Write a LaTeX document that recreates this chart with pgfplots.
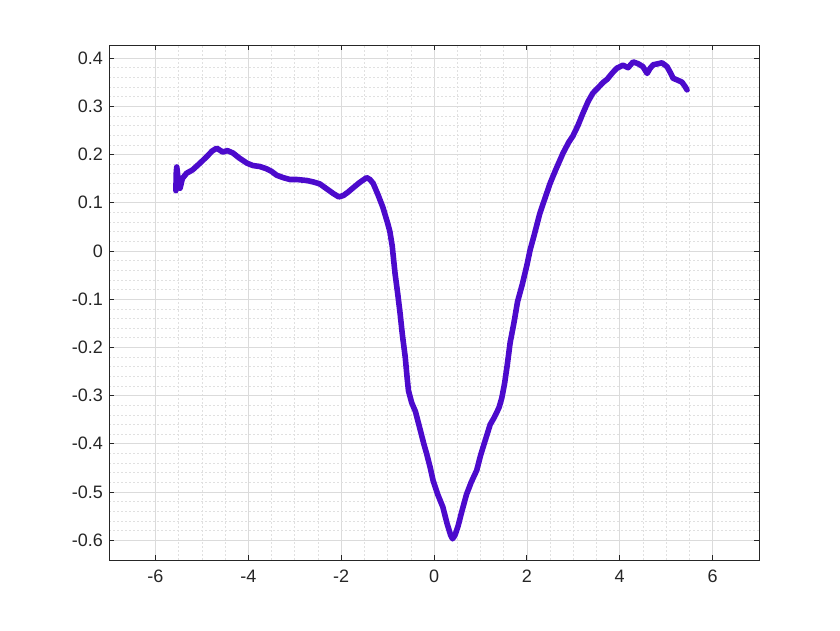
\documentclass[border=0pt]{standalone}
\usepackage{fontspec}
\setmainfont{Liberation Sans}
\usepackage{pgfplots}
\pgfplotsset{compat=1.18}
\definecolor{axgray}{gray}{0.15}
\definecolor{majgrid}{gray}{0.86}
\definecolor{mingrid}{gray}{0.88}
\definecolor{dots}{rgb}{0.30,0.04,0.80}

\pgfplotstableread{
x y
-5.56 0.125
-5.55 0.165
-5.54 0.174
-5.50 0.140
-5.47 0.130
-5.42 0.150
-5.33 0.161
-5.20 0.168
-5.04 0.182
-4.90 0.195
-4.78 0.207
-4.68 0.213
-4.55 0.205
-4.45 0.208
-4.33 0.203
-4.20 0.193
-4.03 0.182
-3.90 0.177
-3.75 0.175
-3.60 0.170
-3.50 0.165
-3.39 0.157
-3.25 0.152
-3.10 0.148
-2.95 0.148
-2.74 0.146
-2.60 0.143
-2.46 0.139
-2.30 0.128
-2.17 0.119
-2.05 0.112
-1.95 0.115
-1.85 0.122
-1.74 0.131
-1.60 0.142
-1.45 0.152
-1.38 0.148
-1.31 0.140
-1.20 0.115
-1.10 0.090
-1.00 0.058
-0.95 0.040
-0.90 0.010
-0.84 -0.046
-0.78 -0.090
-0.73 -0.130
-0.68 -0.175
-0.62 -0.220
-0.58 -0.262
-0.55 -0.290
-0.48 -0.315
-0.40 -0.333
-0.30 -0.370
-0.22 -0.400
-0.16 -0.420
-0.08 -0.450
-0.02 -0.476
0.08 -0.505
0.19 -0.531
0.28 -0.565
0.36 -0.590
0.40 -0.597
0.45 -0.590
0.52 -0.570
0.60 -0.540
0.70 -0.505
0.80 -0.480
0.92 -0.455
1.00 -0.425
1.08 -0.400
1.21 -0.360
1.30 -0.345
1.40 -0.325
1.46 -0.305
1.52 -0.275
1.58 -0.235
1.64 -0.190
1.72 -0.150
1.80 -0.105
1.90 -0.070
2.00 -0.030
2.07 0.002
2.15 0.030
2.28 0.078
2.40 0.112
2.50 0.140
2.62 0.168
2.78 0.203
2.90 0.225
2.99 0.238
3.10 0.260
3.21 0.286
3.32 0.310
3.42 0.327
3.55 0.340
3.65 0.350
3.73 0.356
3.85 0.370
3.94 0.379
4.07 0.385
4.18 0.380
4.29 0.392
4.40 0.388
4.50 0.382
4.59 0.368
4.65 0.378
4.72 0.386
4.82 0.388
4.91 0.390
5.02 0.382
5.10 0.368
5.15 0.358
5.25 0.354
5.34 0.350
5.40 0.342
5.45 0.334
}\curve

\begin{document}
\begin{tikzpicture}
\begin{axis}[
    scale only axis,
    width=487.5pt,
    height=386.25pt,
    xmin=-7, xmax=7,
    ymin=-0.641, ymax=0.427,
    xtick={-6,-4,-2,0,2,4,6},
    ytick={-0.6,-0.5,-0.4,-0.3,-0.2,-0.1,0,0.1,0.2,0.3,0.4},
    yticklabels={-0.6,-0.5,-0.4,-0.3,-0.2,-0.1,0,0.1,0.2,0.3,0.4},
    minor x tick num=3,
    minor y tick num=4,
    grid=both,
    major grid style={majgrid, line width=0.5pt},
    minor grid style={mingrid, dash pattern=on 1.5pt off 1.5pt, line width=0.4pt},
    axis line style={axgray, line width=0.6pt},
    tick style={axgray, line width=0.6pt},
    major tick length=3.75pt,
    minor tick length=0pt,
    tick align=inside,
    xtick pos=both, ytick pos=both,
    ticklabel style={font=\fontsize{13.5}{16}\selectfont, text=axgray},
    xticklabel style={yshift=-4pt},
    yticklabel style={xshift=-1pt},
    /pgf/number format/assume math mode=true,
]
\addplot[dots, line width=4.2pt, line join=round, line cap=round, no marks]
    table[x=x, y=y] {\curve};
\end{axis}
\path (current axis.south west) ++(-81.75pt,-52.5pt)
      (current axis.north east) ++(60.75pt,33.75pt);
\end{tikzpicture}
\end{document}
